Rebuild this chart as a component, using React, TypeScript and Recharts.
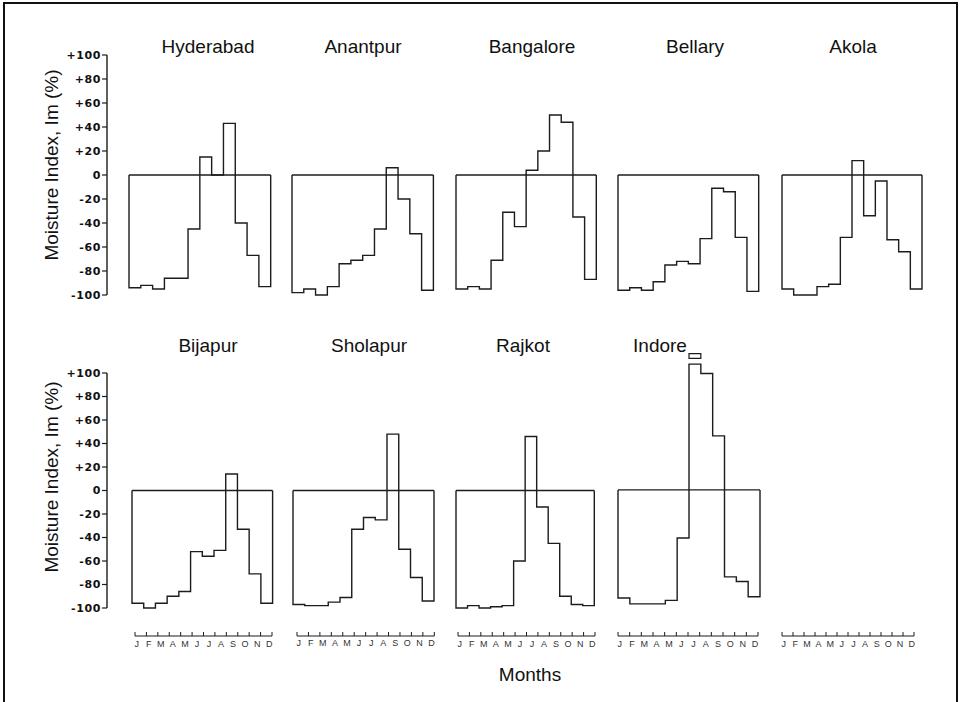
import React from "react";
import {
  LineChart,
  Line,
  XAxis,
  YAxis,
  ReferenceLine,
  ReferenceArea,
} from "recharts";

// Moisture index (Im, %) by month
const MONTHS = ["J", "F", "M", "A", "M", "J", "J", "A", "S", "O", "N", "D"];
const Y_TICKS = [-100, -80, -60, -40, -20, 0, 20, 40, 60, 80, 100];

const hyderabad = [-94, -92, -95, -86, -86, -45, 15, 0, 43, -40, -67, -93];
const anantpur = [-98, -95, -100, -93, -74, -71, -67, -45, 6, -20, -49, -96];
const bangalore = [-95, -93, -95, -71, -31, -43, 4, 20, 50, 44, -35, -87];
const bellary = [-96, -94, -96, -89, -75, -72, -74, -53, -11, -14, -52, -97];
const akola = [-95, -100, -100, -93, -91, -52, 12, -34, -5, -54, -64, -95];
const bijapur = [-96, -100, -96, -90, -86, -52, -56, -51, 14, -33, -71, -96];
const sholapur = [-97, -98, -98, -95, -91, -33, -23, -25, 48, -50, -74, -94];
const rajkot = [-100, -98, -100, -99, -98, -60, 46, -14, -45, -90, -97, -98];
const indore = [-92, -97, -97, -97, -94, -41, 107, 99, 46, -74, -78, -91];

const INK = "#1c1c1c";
const SANS = "'Liberation Sans', Arial, sans-serif";

const TOP_ROW = { zeroY: 175, unit: 1.2, titleTop: 37 };
const BOTTOM_ROW = { zeroY: 490, unit: 1.175, titleTop: 336 };

const PANELS = [
  { name: "Hyderabad", values: hyderabad, row: TOP_ROW, left: 129.3, width: 141.7, titleX: 208 },
  { name: "Anantpur", values: anantpur, row: TOP_ROW, left: 292.3, width: 141.4, titleX: 363 },
  { name: "Bangalore", values: bangalore, row: TOP_ROW, left: 456, width: 140.3, titleX: 532 },
  { name: "Bellary", values: bellary, row: TOP_ROW, left: 618.3, width: 140.7, titleX: 695 },
  { name: "Akola", values: akola, row: TOP_ROW, left: 782.3, width: 140, titleX: 853 },
  { name: "Bijapur", values: bijapur, row: BOTTOM_ROW, left: 131.7, width: 140.6, titleX: 208 },
  { name: "Sholapur", values: sholapur, row: BOTTOM_ROW, left: 293.3, width: 141, titleX: 369 },
  { name: "Rajkot", values: rajkot, row: BOTTOM_ROW, left: 456, width: 138.3, titleX: 523 },
  { name: "Indore", values: indore, row: BOTTOM_ROW, left: 618.3, width: 142, titleX: 660, yMax: 125, broken: true },
];

const MONTH_AXES = [
  { left: 135, width: 137 },
  { left: 296.7, width: 137.3 },
  { left: 458, width: 137 },
  { left: 618.3, width: 140 },
  { left: 782.3, width: 132 },
];

function Panel({ name, values, row, left, width, titleX, yMax = 100, broken = false }: any) {
  const mt = 20;
  const mb = 8;
  const mx = 4;
  const plotH = row.unit * (yMax + 100);
  const top = row.zeroY - row.unit * yMax - mt;
  // closed histogram outline: down the left edge, across the months, back up the right edge
  const data = [
    { m: 0, v: 0 },
    ...values.map((v: number, i: number) => ({ m: i, v })),
    { m: 12, v: 0 },
  ];
  const peak = Math.max(...values);
  const peakIdx = values.indexOf(peak);

  return (
    <>
      <div
        style={{
          position: "absolute",
          left: titleX,
          top: row.titleTop,
          transform: "translateX(-50%)",
          fontFamily: SANS,
          fontSize: 19,
          lineHeight: "19px",
          color: "#111",
          whiteSpace: "nowrap",
        }}
      >
        {name}
      </div>
      <div style={{ position: "absolute", left: left - mx, top }}>
        <LineChart
          width={width + 2 * mx}
          height={plotH + mt + mb}
          data={data}
          margin={{ top: mt, right: mx, bottom: mb, left: mx }}
        >
          <XAxis type="number" dataKey="m" domain={[0, 12]} hide />
          <YAxis type="number" domain={[-100, yMax]} hide />
          <ReferenceLine y={0} stroke={INK} strokeWidth={1.4} />
          {broken && (
            <ReferenceArea
              x1={peakIdx}
              x2={peakIdx + 1}
              y1={peak + 5}
              y2={peak + 9}
              fill="none"
              fillOpacity={0}
              stroke={INK}
              strokeWidth={1.2}
              ifOverflow="visible"
            />
          )}
          <Line
            type="stepAfter"
            dataKey="v"
            stroke={INK}
            strokeWidth={1.4}
            dot={false}
            activeDot={false}
            isAnimationActive={false}
          />
        </LineChart>
      </div>
    </>
  );
}

function RowAxis({ row, labelY }: any) {
  const mt = 10;
  const axisX = 106.7;
  const yw = 60;
  const plotH = row.unit * 200;
  const top = row.zeroY - row.unit * 100 - mt;
  return (
    <>
      <div
        style={{
          position: "absolute",
          left: 51,
          top: labelY,
          transform: "translate(-50%, -50%) rotate(-90deg)",
          fontFamily: SANS,
          fontSize: 19,
          lineHeight: "19px",
          color: "#111",
          whiteSpace: "nowrap",
        }}
      >
        Moisture Index, Im (%)
      </div>
      <div style={{ position: "absolute", left: axisX - yw, top }}>
        <LineChart
          width={yw + 4}
          height={plotH + 2 * mt}
          data={[{ v: -100 }, { v: 100 }]}
          margin={{ top: mt, right: 4, bottom: mt, left: 0 }}
        >
          <XAxis hide />
          <YAxis
            type="number"
            domain={[-100, 100]}
            ticks={Y_TICKS}
            interval={0}
            width={yw}
            tickSize={5}
            tickMargin={1}
            axisLine={{ stroke: INK, strokeWidth: 1.4 }}
            tickLine={{ stroke: INK, strokeWidth: 1.2 }}
            tickFormatter={(v: number) => (v > 0 ? `+${v}` : `${v}`)}
            tick={{
              fill: "#111",
              fontSize: 11,
              fontWeight: 700,
              fontFamily: "'DejaVu Sans', sans-serif",
              letterSpacing: 0.6,
            }}
          />
          <Line dataKey="v" stroke="none" dot={false} activeDot={false} isAnimationActive={false} />
        </LineChart>
      </div>
    </>
  );
}

function MonthTick(props: any) {
  const { x, y, payload } = props;
  const i = payload.value;
  return (
    <g>
      <line x1={x} x2={x} y1={y} y2={y - 4} stroke={INK} strokeWidth={1} />
      {i < 12 && (
        <text
          x={x + 1.7 + i * 0.63}
          y={y + 10.5}
          textAnchor="middle"
          fontSize={9}
          fontFamily={SANS}
          fill="#333"
        >
          {MONTHS[i]}
        </text>
      )}
    </g>
  );
}

function MonthAxis({ left, width }: any) {
  const data = [...MONTHS.map((_, i) => ({ m: i, v: 0 })), { m: 12, v: 0 }];
  return (
    <div style={{ position: "absolute", left: left - 4, top: 626 }}>
      <LineChart
        width={width + 8}
        height={30}
        data={data}
        margin={{ top: 8, right: 4, bottom: 0, left: 4 }}
      >
        <XAxis
          type="number"
          dataKey="m"
          domain={[0, 12]}
          ticks={data.map((d) => d.m)}
          interval={0}
          height={20}
          tickLine={false}
          tickSize={0}
          tickMargin={0}
          axisLine={{ stroke: INK, strokeWidth: 1 }}
          tick={<MonthTick />}
        />
        <YAxis hide domain={[0, 1]} />
        <Line dataKey="v" stroke="none" dot={false} activeDot={false} isAnimationActive={false} />
      </LineChart>
    </div>
  );
}

export default function App() {
  return (
    <div
      style={{
        position: "absolute",
        left: 0,
        top: 0,
        width: 961,
        height: 702,
        overflow: "hidden",
        background: "#fff",
      }}
    >
      <div
        style={{
          position: "absolute",
          left: 3,
          top: 2,
          width: 955,
          height: 720,
          border: "2px solid #111",
          boxSizing: "border-box",
        }}
      />
      <RowAxis row={TOP_ROW} labelY={165} />
      <RowAxis row={BOTTOM_ROW} labelY={477} />
      {PANELS.map((p) => (
        <Panel key={p.name} {...p} />
      ))}
      {MONTH_AXES.map((a, i) => (
        <MonthAxis key={i} {...a} />
      ))}
      <div
        style={{
          position: "absolute",
          left: 530,
          top: 665,
          transform: "translateX(-50%)",
          fontFamily: SANS,
          fontSize: 19,
          lineHeight: "19px",
          color: "#111",
        }}
      >
        Months
      </div>
    </div>
  );
}
